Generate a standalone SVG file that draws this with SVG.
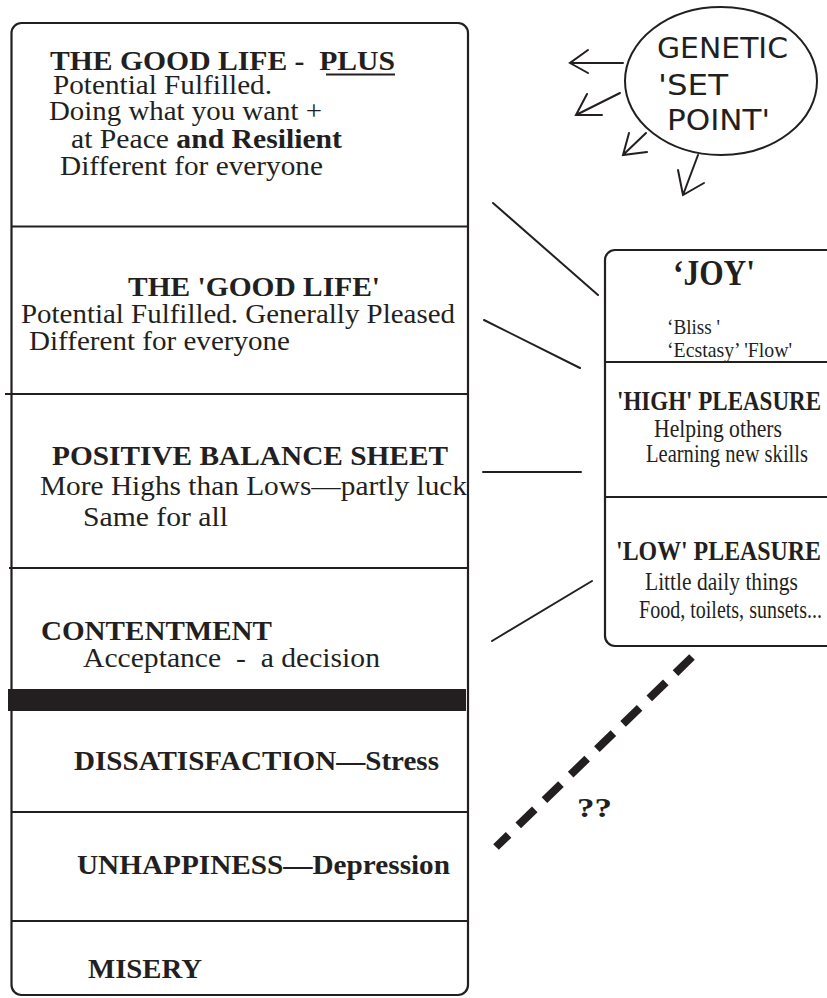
<svg xmlns="http://www.w3.org/2000/svg" width="827" height="998" viewBox="0 0 827 998">
<style>
.ln{stroke:#231f20;stroke-width:2;fill:none;stroke-linecap:round}
.box{stroke:#231f20;stroke-width:2.2;fill:none}
.t{font-family:"Liberation Serif","Times New Roman",serif;fill:#231f20;font-size:28px}
.b{font-weight:bold;font-size:27px}
.r{font-size:25px}
.h{font-size:27px}
.c{font-family:"DejaVu Sans",sans-serif;fill:#231f20;font-size:29px}
</style>
<rect width="827" height="998" fill="#fff"/>
<g id="ladder">
<rect class="box" x="11.5" y="23" width="456.5" height="972" rx="10"/>
<line class="box" x1="11" y1="226.5" x2="468" y2="226.5"/>
<line class="box" x1="5" y1="394" x2="468" y2="394"/>
<line class="box" x1="9" y1="568" x2="468" y2="568"/>
<rect x="8" y="689" width="458" height="22" fill="#231f20"/>
<line class="box" x1="11" y1="812" x2="468" y2="812"/>
<line class="box" x1="11" y1="921" x2="468" y2="921"/>
</g>
<g id="good-life-plus">
<text class="t b" x="50" y="70" textLength="345" lengthAdjust="spacingAndGlyphs" xml:space="preserve">THE GOOD LIFE -  PLUS</text>
<line x1="326" y1="74.5" x2="395" y2="74.5" stroke="#231f20" stroke-width="2"/>
<text class="t" x="53" y="94" textLength="219" lengthAdjust="spacingAndGlyphs">Potential Fulfilled.</text>
<text class="t" x="49" y="120" textLength="273" lengthAdjust="spacingAndGlyphs">Doing what you want +</text>
<text class="t" x="71" y="148" textLength="271" lengthAdjust="spacingAndGlyphs">at Peace <tspan font-weight="bold">and Resilient</tspan></text>
<text class="t" x="60" y="175" textLength="263" lengthAdjust="spacingAndGlyphs">Different for everyone</text>
</g>
<g id="good-life">
<text class="t b" x="128" y="296" textLength="252" lengthAdjust="spacingAndGlyphs">THE 'GOOD LIFE'</text>
<text class="t" x="21" y="323" textLength="434" lengthAdjust="spacingAndGlyphs">Potential Fulfilled. Generally Pleased</text>
<text class="t" x="29" y="350" textLength="261" lengthAdjust="spacingAndGlyphs">Different for everyone</text>
</g>
<g id="positive-balance">
<text class="t b" x="52" y="465" textLength="396" lengthAdjust="spacingAndGlyphs">POSITIVE BALANCE SHEET</text>
<text class="t" x="40" y="495" textLength="427" lengthAdjust="spacingAndGlyphs">More Highs than Lows—partly luck</text>
<text class="t" x="83" y="526" textLength="145" lengthAdjust="spacingAndGlyphs">Same for all</text>
</g>
<g id="contentment">
<text class="t b" x="41" y="640" textLength="231" lengthAdjust="spacingAndGlyphs">CONTENTMENT</text>
<text class="t" x="83" y="667" textLength="297" lengthAdjust="spacingAndGlyphs" xml:space="preserve">Acceptance  -  a decision</text>
</g>
<g id="dissatisfaction">
<text class="t b" x="74" y="770" textLength="365" lengthAdjust="spacingAndGlyphs">DISSATISFACTION—Stress</text>
</g>
<g id="unhappiness">
<text class="t b" x="77" y="874" textLength="373" lengthAdjust="spacingAndGlyphs">UNHAPPINESS—Depression</text>
</g>
<g id="misery">
<text class="t b" x="88" y="978" textLength="114" lengthAdjust="spacingAndGlyphs">MISERY</text>
</g>
<g id="pleasure-box">
<path class="box" d="M827,250 H615 A10,10 0 0 0 605,260 V636 A10,10 0 0 0 615,646 H827"/>
<line class="box" x1="605" y1="362" x2="827" y2="362"/>
<line class="box" x1="605" y1="497" x2="827" y2="497"/>
</g>
<g id="joy">
<text class="t b" style="font-size:35px" x="673" y="285" textLength="82" lengthAdjust="spacingAndGlyphs">‘JOY'</text>
<text class="t" style="font-size:21px" x="667" y="334" textLength="53" lengthAdjust="spacingAndGlyphs">‘Bliss '</text>
<text class="t" style="font-size:21px" x="667" y="357" textLength="125" lengthAdjust="spacingAndGlyphs">‘Ecstasy’ 'Flow'</text>
</g>
<g id="high-pleasure">
<text class="t b h" x="617" y="410" textLength="204" lengthAdjust="spacingAndGlyphs">'HIGH' PLEASURE</text>
<text class="t r" x="654" y="437" textLength="128" lengthAdjust="spacingAndGlyphs">Helping others</text>
<text class="t r" x="646" y="462" textLength="162" lengthAdjust="spacingAndGlyphs">Learning new skills</text>
</g>
<g id="low-pleasure">
<text class="t b h" x="616" y="560" textLength="205" lengthAdjust="spacingAndGlyphs">'LOW' PLEASURE</text>
<text class="t r" x="645" y="590" textLength="153" lengthAdjust="spacingAndGlyphs">Little daily things</text>
<text class="t r" x="639" y="618" textLength="183" lengthAdjust="spacingAndGlyphs">Food, toilets, sunsets...</text>
</g>
<g id="set-point">
<ellipse cx="721" cy="81" rx="96" ry="74" stroke="#231f20" stroke-width="2" fill="none"/>
<text class="c" x="657" y="58" textLength="131" lengthAdjust="spacingAndGlyphs">GENETIC</text>
<text class="c" x="658" y="95" textLength="70" lengthAdjust="spacingAndGlyphs">'SET</text>
<text class="c" x="667" y="130" textLength="103" lengthAdjust="spacingAndGlyphs">POINT'</text>
</g>
<g id="unknown">
<text class="t b" x="577" y="817" textLength="35" lengthAdjust="spacingAndGlyphs">??</text>
</g>
<g id="connectors">
<line class="ln" x1="493" y1="203" x2="598" y2="295"/>
<line class="ln" x1="484" y1="320" x2="580" y2="368"/>
<line class="ln" x1="483" y1="472" x2="581" y2="472"/>
<line class="ln" x1="492" y1="641" x2="592" y2="581"/>
<line x1="692" y1="657" x2="496" y2="847" stroke="#231f20" stroke-width="8" stroke-dasharray="23 13.5"/>
<path class="ln" d="M623,63 H570 M588,50 L570,63 L588,73"/>
<path class="ln" d="M620,93 L576,115 M587,94 L576,115 L602,115"/>
<path class="ln" d="M646,133 L623,155 M629,133 L623,155 L647,152"/>
<path class="ln" d="M698,155 L683,195 M678,170 L683,195 L704,183"/>
</g>
</svg>
